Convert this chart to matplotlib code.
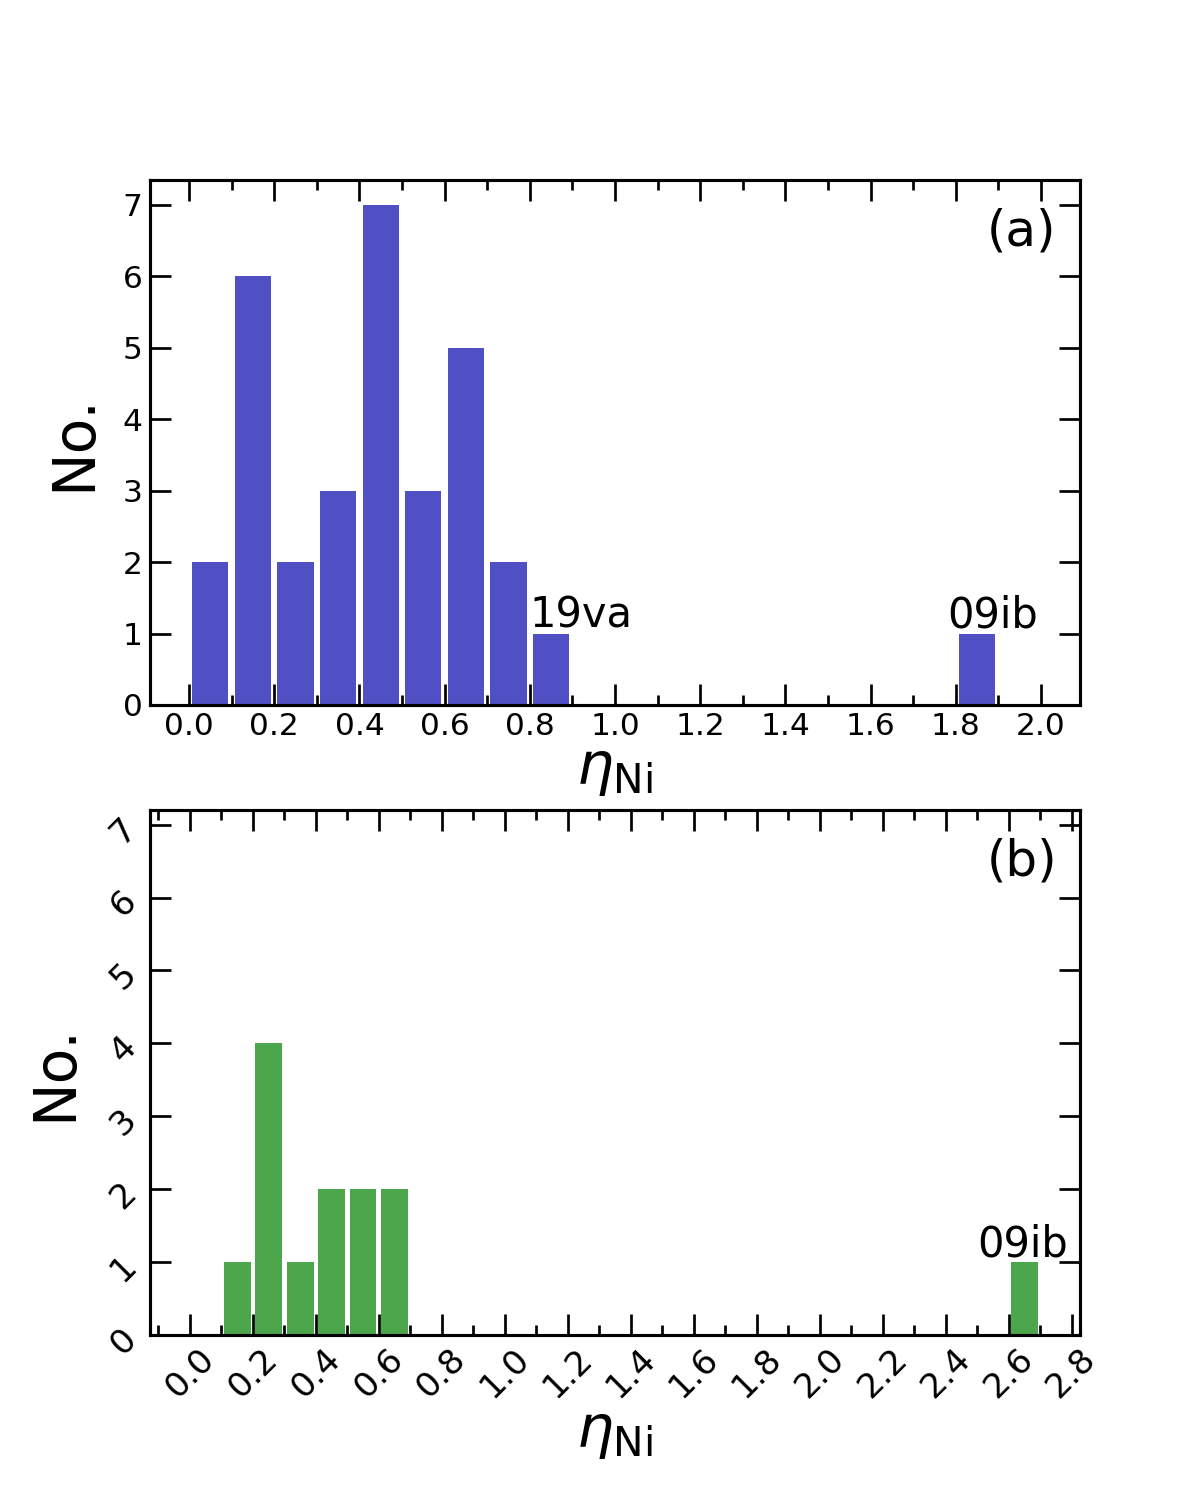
import numpy as np
import matplotlib
matplotlib.use('Agg')
import matplotlib.pyplot as plt
from matplotlib.ticker import MultipleLocator

# histogram counts (bin width 0.1)
edges_a = np.arange(0, 2.01, 0.1)
counts_a = [2, 6, 2, 3, 7, 3, 5, 2, 1, 0, 0, 0, 0, 0, 0, 0, 0, 0, 1, 0]

edges_b = np.arange(0, 2.71, 0.1)
counts_b = [0, 1, 4, 1, 2, 2, 2, 0, 0, 0, 0, 0, 0, 0, 0, 0, 0, 0, 0, 0,
            0, 0, 0, 0, 0, 0, 1]

labels_a = [('19va', 0.80, 1.08), ('09ib', 1.78, 1.08)]
labels_b = [('09ib', 2.50, 1.08)]


def style_axis(ax, lsize):
    for s in ax.spines.values():
        s.set_linewidth(1.5)
    ax.tick_params(which='both', direction='in', top=True, right=True,
                   labelsize=lsize)
    ax.tick_params(which='major', length=10, width=1.3)
    ax.tick_params(which='minor', length=5, width=1.3)
    ax.xaxis.set_major_locator(MultipleLocator(0.2))
    ax.xaxis.set_minor_locator(MultipleLocator(0.1))
    ax.yaxis.set_major_locator(MultipleLocator(1))


fig, (ax1, ax2) = plt.subplots(2, 1, figsize=(8, 10), dpi=150)

# (a)
centers_a = edges_a[:-1] + 0.05
ax1.hist(centers_a, bins=edges_a, weights=counts_a, rwidth=0.85, color='#5050c4')
style_axis(ax1, 15)
for txt, x, y in labels_a:
    ax1.text(x, y, txt, fontsize=20)
ax1.text(0.9, 0.875, '(a)', transform=ax1.transAxes, fontsize=24)
ax1.set_xlabel(r'$\eta_{\rm Ni}$', fontsize=28, labelpad=0)
ax1.set_ylabel('No.', fontsize=28, labelpad=10)

# (b)
centers_b = edges_b[:-1] + 0.05
ax2.hist(centers_b, bins=edges_b, weights=counts_b, rwidth=0.85,
         color='green', alpha=0.7)
style_axis(ax2, 16.5)
ax2.set_ylim(0, 7.2)
for txt, x, y in labels_b:
    ax2.text(x, y, txt, fontsize=20)
ax2.text(0.9, 0.875, '(b)', transform=ax2.transAxes, fontsize=24)
plt.setp(ax2.get_xticklabels(), rotation=45)
plt.setp(ax2.get_yticklabels(), rotation=45)
ax2.set_xlabel(r'$\eta_{\rm Ni}$', fontsize=28, labelpad=0)
ax2.set_ylabel('No.', fontsize=28, labelpad=10)

fig.savefig('out.png', dpi=150)
